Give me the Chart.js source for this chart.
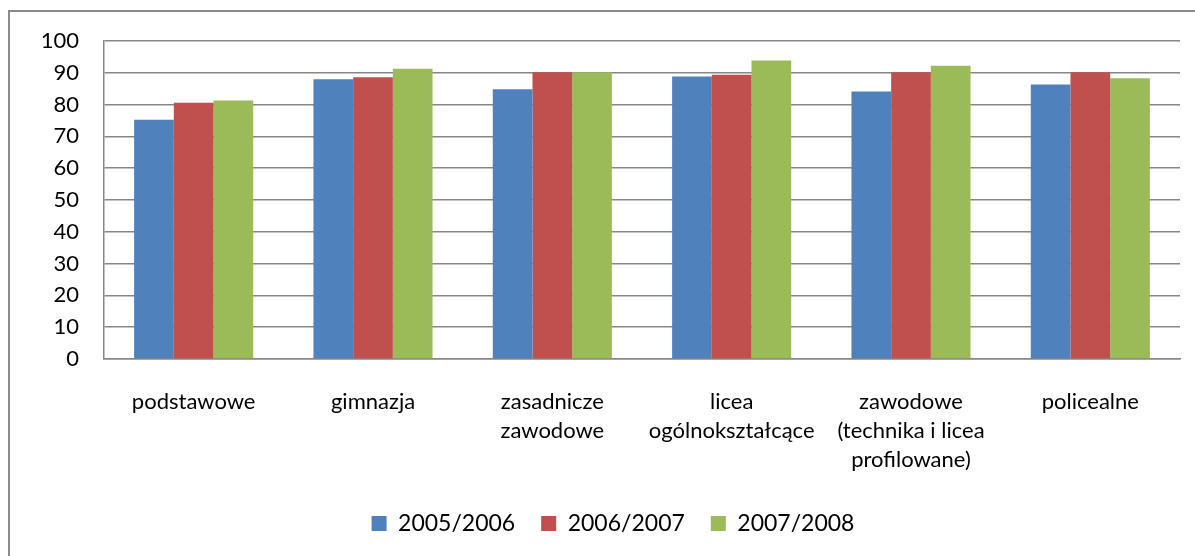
<!DOCTYPE html>
<html>
<head>
<meta charset="utf-8">
<script src="https://cdn.jsdelivr.net/npm/chart.js@4/dist/chart.umd.min.js"></script>
<style>
  html, body { margin: 0; padding: 0; background: #ffffff; }
  #wrap { position: relative; width: 1195px; height: 556px; }
</style>
</head>
<body>
<div id="wrap"><canvas id="c" width="1195" height="556"></canvas></div>
<script>
const categories = [
  'podstawowe',
  'gimnazja',
  ['zasadnicze', 'zawodowe'],
  ['licea', 'ogólnokształcące'],
  ['zawodowe', '(technika i licea', 'profilowane)'],
  'policealne'
];
const seriesNames = ['2005/2006', '2006/2007', '2007/2008'];
const values2005 = [75.2, 88.0, 84.8, 88.8, 84.1, 86.3];
const values2006 = [80.6, 88.6, 90.2, 89.4, 90.2, 90.2];
const values2007 = [81.3, 91.3, 90.2, 93.9, 92.2, 88.3];
const yMin = 0, yMax = 100, yStep = 10;

const FONT = 'Lato, "Open Sans", sans-serif';
const GRID = '#878787';

const framePlugin = {
  id: 'frame',
  beforeDraw(chart) {
    const ctx = chart.ctx;
    ctx.save();
    ctx.fillStyle = '#ffffff';
    ctx.fillRect(0, 0, chart.width, chart.height);
    ctx.strokeStyle = '#898989';
    ctx.lineWidth = 2;
    ctx.beginPath();
    ctx.moveTo(9, chart.height + 2);
    ctx.lineTo(9, 11);
    ctx.lineTo(chart.width + 2, 11);
    ctx.stroke();
    ctx.restore();
  }
};

const legendShift = {
  id: 'legendShift',
  afterLayout(chart) {
    if (chart.legend) {
      chart.legend.left += 23;
      chart.legend.right += 23;
    }
  }
};

new Chart(document.getElementById('c'), {
  type: 'bar',
  data: {
    labels: categories,
    datasets: [
      { label: seriesNames[0], data: values2005, backgroundColor: '#4F81BD' },
      { label: seriesNames[1], data: values2006, backgroundColor: '#C0504D' },
      { label: seriesNames[2], data: values2007, backgroundColor: '#9BBB59' }
    ]
  },
  options: {
    responsive: false,
    animation: false,
    layout: { padding: { left: 0, right: 15, top: 41, bottom: 11 } },
    datasets: { bar: { categoryPercentage: 0.664, barPercentage: 1.0, borderWidth: 0 } },
    scales: {
      x: {
        grid: { display: false, drawTicks: false },
        border: { display: true, color: GRID, width: 1.5 },
        ticks: { color: '#000', font: { family: FONT, size: 22, lineHeight: 1.32 }, padding: 28, maxRotation: 0, autoSkip: false },
        afterFit(scale) { scale.height = 127; }
      },
      y: {
        min: yMin, max: yMax,
        grid: { color: GRID, lineWidth: 1.5, drawTicks: false },
        border: { display: true, color: GRID, width: 1.5 },
        ticks: { stepSize: yStep, color: '#000', font: { family: FONT, size: 22 }, padding: 25 },
        afterFit(scale) { scale.width = 104; }
      }
    },
    plugins: {
      legend: {
        position: 'bottom',
        labels: { boxWidth: 15, boxHeight: 15, padding: 26, color: '#000', font: { family: FONT, size: 23 } }
      },
      tooltip: { enabled: false }
    }
  },
  plugins: [framePlugin, legendShift]
});
</script>
</body>
</html>
